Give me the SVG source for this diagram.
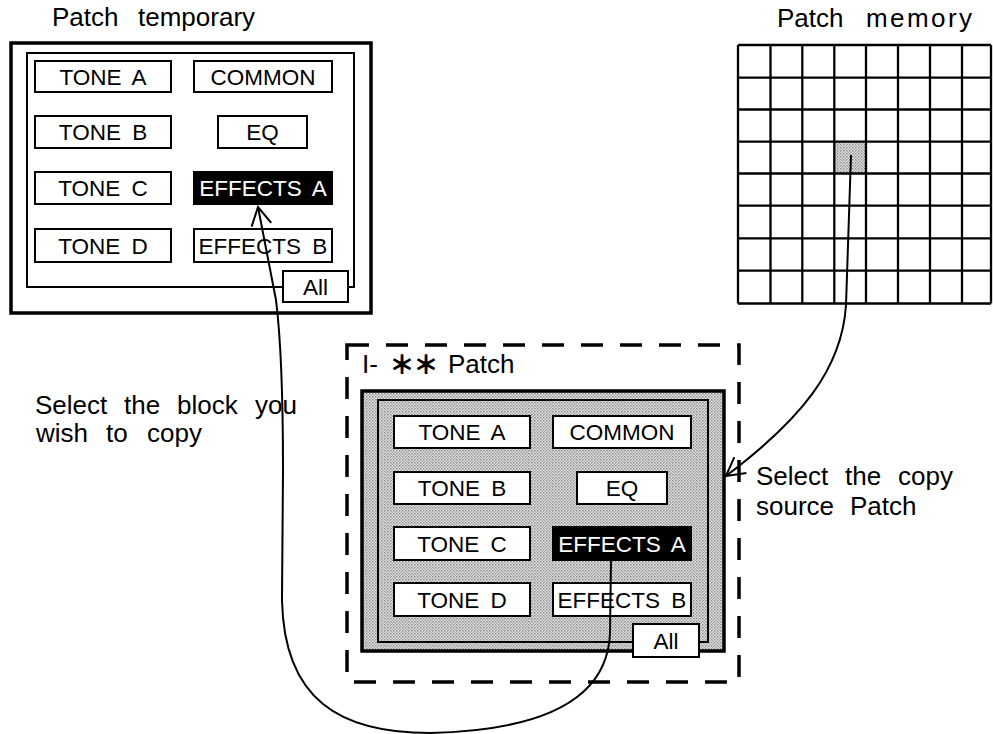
<svg xmlns="http://www.w3.org/2000/svg" width="993" height="734" viewBox="0 0 993 734">
<style>
  .lbl { font-family: "Liberation Sans", Arial, sans-serif; font-size: 26px; fill: #000; }
  .btn { fill: #fff; stroke: #000; stroke-width: 2; }
  .btnk { fill: #000; stroke: #000; stroke-width: 2; }
  .bt { font-family: "Liberation Sans", Arial, sans-serif; font-size: 22.5px; fill: #000; text-anchor: middle; word-spacing: 5px; }
  .btw { font-family: "Liberation Sans", Arial, sans-serif; font-size: 22.5px; fill: #fff; text-anchor: middle; word-spacing: 5px; }
  .frame { fill: none; stroke: #000; stroke-width: 3.5; }
  .inner { fill: none; stroke: #000; stroke-width: 2; }
  .conn { fill: none; stroke: #000; stroke-width: 2; }
</style>
<defs>
  <pattern id="dots" width="3" height="3" patternUnits="userSpaceOnUse">
    <rect width="3" height="3" fill="#e4e4e4"/>
    <rect width="1.5" height="1.5" fill="#8a8a8a"/>
    <rect x="1.5" y="1.5" width="1.5" height="1.5" fill="#a8a8a8"/>
  </pattern>
  <marker id="arr" markerUnits="userSpaceOnUse" markerWidth="40" markerHeight="40" refX="0" refY="0" viewBox="-20 -20 40 40" orient="auto">
    <path d="M-18,-10 L0,0 L-18,10" fill="none" stroke="#000" stroke-width="2"/>
  </marker>
</defs>
<rect width="993" height="734" fill="#fff"/>

<text class="lbl" y="26"><tspan x="52">Patch</tspan><tspan x="138">temporary</tspan></text>
<text class="lbl" y="27"><tspan x="777">Patch</tspan><tspan x="866" textLength="106" lengthAdjust="spacing">memory</tspan></text>

<g id="patch-temporary">
  <rect class="frame" x="11" y="43" width="360" height="270" stroke-width="3"/>
  <rect class="inner" x="27" y="53" width="327" height="234"/>
  <g id="pt-tone-a"><rect class="btn" x="35" y="61" width="136" height="31"/><text class="bt" x="103" y="84.5">TONE A</text></g>
  <g id="pt-common"><rect class="btn" x="194" y="61" width="138" height="31"/><text class="bt" x="263" y="84.5">COMMON</text></g>
  <g id="pt-tone-b"><rect class="btn" x="35" y="116" width="136" height="32"/><text class="bt" x="103" y="140">TONE B</text></g>
  <g id="pt-eq"><rect class="btn" x="218" y="116" width="89" height="32"/><text class="bt" x="262.5" y="140">EQ</text></g>
  <g id="pt-tone-c"><rect class="btn" x="35" y="172" width="136" height="32"/><text class="bt" x="103" y="196">TONE C</text></g>
  <g id="pt-effects-a"><rect class="btnk" x="194" y="172" width="138" height="32"/><text class="btw" x="263" y="196">EFFECTS A</text></g>
  <g id="pt-tone-d"><rect class="btn" x="35" y="229" width="136" height="33"/><text class="bt" x="103" y="253.5">TONE D</text></g>
  <g id="pt-effects-b"><rect class="btn" x="194" y="229" width="138" height="33"/><text class="bt" x="263" y="253.5">EFFECTS B</text></g>
  <g id="pt-all"><rect class="btn" x="283" y="271" width="65" height="31"/><text class="bt" x="315.5" y="294.5">All</text></g>
</g>

<g id="patch-memory">
  <rect x="834.3" y="141.7" width="31.7" height="31.8" fill="url(#dots)"/>
  <path d="M738,45 V303.5 M770.5,45 V303.5 M802.3,45 V303.5 M834.3,45 V303.5 M866,45 V303.5 M898,45 V303.5 M930,45 V303.5 M962,45 V303.5 M991,45 V303.5
           M738,45 H991 M738,77.7 H991 M738,109.5 H991 M738,141.7 H991 M738,173.5 H991 M738,205.7 H991 M738,238.3 H991 M738,270.7 H991 M738,303.5 H991"
        fill="none" stroke="#000" stroke-width="2.3"/>
</g>

<g id="source-patch">
  <rect x="347" y="345" width="392" height="337" fill="none" stroke="#000" stroke-width="3.5" stroke-dasharray="22 17"/>
  <text class="lbl" y="373"><tspan x="362">I-</tspan><tspan x="390" font-family="'Noto Sans CJK JP', 'Liberation Sans', sans-serif" font-size="24" stroke="#000" stroke-width="1.3">＊＊</tspan><tspan x="448">Patch</tspan></text>
  <rect x="362" y="391" width="362" height="260" fill="url(#dots)" stroke="#000" stroke-width="3.5"/>
  <rect class="inner" x="378" y="400" width="330" height="242"/>
  <g id="sp-tone-a"><rect class="btn" x="394" y="416" width="136" height="32"/><text class="bt" x="462" y="440">TONE A</text></g>
  <g id="sp-common"><rect class="btn" x="553" y="416" width="138" height="32"/><text class="bt" x="622" y="440">COMMON</text></g>
  <g id="sp-tone-b"><rect class="btn" x="394" y="472" width="136" height="32"/><text class="bt" x="462" y="496">TONE B</text></g>
  <g id="sp-eq"><rect class="btn" x="577" y="472" width="90" height="32"/><text class="bt" x="622" y="496">EQ</text></g>
  <g id="sp-tone-c"><rect class="btn" x="394" y="527" width="136" height="33"/><text class="bt" x="462" y="551.5">TONE C</text></g>
  <g id="sp-effects-a"><rect class="btnk" x="553" y="527" width="138" height="33"/><text class="btw" x="622" y="551.5">EFFECTS A</text></g>
  <g id="sp-tone-d"><rect class="btn" x="394" y="583" width="136" height="33"/><text class="bt" x="462" y="607.5">TONE D</text></g>
  <g id="sp-effects-b"><rect class="btn" x="553" y="583" width="138" height="33"/><text class="bt" x="622" y="607.5">EFFECTS B</text></g>
  <g id="sp-all"><rect class="btn" x="633" y="624" width="66" height="33"/><text class="bt" x="666" y="648.5">All</text></g>
</g>

<text class="lbl" y="414"><tspan x="35">Select</tspan><tspan x="124">the</tspan><tspan x="177">block</tspan><tspan x="255">you</tspan></text>
<text class="lbl" y="442"><tspan x="36">wish</tspan><tspan x="106">to</tspan><tspan x="147">copy</tspan></text>
<text class="lbl" y="485"><tspan x="756">Select</tspan><tspan x="845">the</tspan><tspan x="898">copy</tspan></text>
<text class="lbl" y="515"><tspan x="756">source</tspan><tspan x="850">Patch</tspan></text>

<g id="connectors">
  <path class="conn" d="M851,155 L846,305 C842,370 800,420 726,476" marker-end="url(#arr)"/>
  <path class="conn" d="M611,560 L610,633 C608,690 560,730 430,733 C340,733 284,700 282,600 L283,470 C283,400 281,340 276,300 L258,207" marker-end="url(#arr)"/>
</g>
</svg>
